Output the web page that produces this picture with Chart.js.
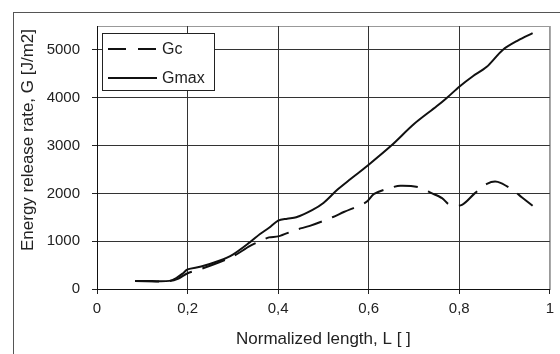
<!DOCTYPE html>
<html>
<head>
<meta charset="utf-8">
<script src="https://cdn.jsdelivr.net/npm/chart.js@4/dist/chart.umd.min.js"></script>
<style>
  html, body { margin: 0; padding: 0; background: #fff; }
  #wrap { width: 560px; height: 354px; position: relative; }
</style>
</head>
<body>
<div id="wrap"><canvas id="chart" width="560" height="354"></canvas></div>
<script>
// Gc (dashed) and Gmax (solid)
const gcX   = [0.084, 0.16, 0.18, 0.2, 0.23, 0.27, 0.30, 0.338, 0.36, 0.38, 0.40, 0.44, 0.47, 0.52, 0.545, 0.595, 0.612, 0.65, 0.67, 0.709, 0.74, 0.762, 0.779, 0.806, 0.834, 0.861, 0.885, 0.918, 0.938, 0.962];
const gcY   = [165, 165, 220, 330, 420, 560, 680, 900, 1000, 1080, 1100, 1240, 1320, 1500, 1610, 1820, 1990, 2120, 2160, 2130, 2000, 1900, 1760, 1760, 2000, 2200, 2240, 2070, 1920, 1740];
const gmaxX = [0.084, 0.12, 0.16, 0.175, 0.19, 0.2, 0.23, 0.27, 0.30, 0.338, 0.36, 0.38, 0.40, 0.42, 0.44, 0.475, 0.50, 0.53, 0.56, 0.60, 0.65, 0.70, 0.75, 0.773, 0.80, 0.83, 0.86, 0.896, 0.93, 0.962];
const gmaxY = [165, 165, 170, 230, 330, 410, 470, 590, 720, 980, 1150, 1280, 1430, 1470, 1500, 1650, 1800, 2070, 2300, 2600, 3000, 3450, 3820, 4000, 4230, 4450, 4640, 5000, 5200, 5350];
const yTicks = [0, 1000, 2000, 3000, 4000, 5000];
const xTicks = [0, 0.2, 0.4, 0.6, 0.8, 1];
const yTitle = 'Energy release rate, G [J/m2]';
const xTitle = 'Normalized length, L [ ]';

const toPts = (xs, ys) => xs.map((x, i) => ({ x: x, y: ys[i] }));
const FONT = "'Liberation Sans', Arial, sans-serif";

// outer frame, gray plot border and the y title
const framePlugin = {
    id: 'frame',
    beforeDraw(chart) {
        const ctx = chart.ctx;
        const a = chart.chartArea;
        ctx.save();
        ctx.fillStyle = '#fff';
        ctx.fillRect(0, 0, chart.width, chart.height);
        ctx.strokeStyle = '#555';
        ctx.lineWidth = 1;
        ctx.strokeRect(13.5, 12.5, 600, 400);
        ctx.strokeStyle = '#999';
        ctx.strokeRect(a.left + 0.5, a.top + 0.5, a.right - a.left, a.bottom - a.top);

        ctx.translate(33, 140);
        ctx.rotate(-Math.PI / 2);
        ctx.fillStyle = '#222';
        ctx.font = '17px ' + FONT;
        ctx.textAlign = 'center';
        ctx.textBaseline = 'alphabetic';
        ctx.fillText(yTitle, 0, 0);
        ctx.restore();
    }
};

// legend box in the top-left of the plot
const boxLegend = {
    id: 'boxLegend',
    afterDraw(chart) {
        const ctx = chart.ctx;
        ctx.save();
        ctx.fillStyle = '#fff';
        ctx.fillRect(102, 33, 112, 57);
        ctx.strokeStyle = '#222';
        ctx.lineWidth = 1;
        ctx.strokeRect(102.5, 33.5, 112, 57);
        chart.data.datasets.forEach((ds, i) => {
            const y = 49 + i * 29;
            ctx.strokeStyle = ds.borderColor;
            ctx.lineWidth = ds.borderWidth;
            ctx.setLineDash(ds.borderDash ? [18, 12] : []);
            ctx.beginPath();
            ctx.moveTo(108, y);
            ctx.lineTo(157, y);
            ctx.stroke();
            ctx.setLineDash([]);
            ctx.fillStyle = '#222';
            ctx.font = '16px ' + FONT;
            ctx.textBaseline = 'middle';
            ctx.fillText(ds.label, 162, y + 1);
        });
        ctx.restore();
    }
};

new Chart(document.getElementById('chart'), {
    type: 'line',
    data: {
        datasets: [
            {
                label: 'Gc',
                data: toPts(gcX, gcY),
                borderColor: '#111',
                borderWidth: 2,
                borderDash: [24, 11],
                pointRadius: 0,
                tension: 0.3,
                fill: false
            },
            {
                label: 'Gmax',
                data: toPts(gmaxX, gmaxY),
                borderColor: '#111',
                borderWidth: 2,
                pointRadius: 0,
                tension: 0.3,
                fill: false
            }
        ]
    },
    options: {
        responsive: false,
        animation: false,
        layout: { padding: { top: 26, right: 10, left: 0, bottom: 0 } },
        plugins: {
            legend: { display: false },
            tooltip: { enabled: false }
        },
        scales: {
            x: {
                type: 'linear',
                min: 0,
                max: 1,
                afterBuildTicks: s => { s.ticks = xTicks.map(v => ({ value: v })); },
                afterFit: s => { s.height = 65; },
                ticks: {
                    color: '#222',
                    font: { family: FONT, size: 15 },
                    padding: 6,
                    maxRotation: 0,
                    callback: v => String(v).replace('.', ',')
                },
                grid: {
                    color: ctx => (ctx.tick && ctx.tick.value === 1) ? '#999' : '#333',
                    tickColor: '#222',
                    tickLength: 5,
                    lineWidth: 1
                },
                border: { color: '#111', width: 1 },
                title: {
                    display: true,
                    text: xTitle,
                    color: '#222',
                    font: { family: FONT, size: 17 },
                    padding: { top: 2, bottom: 4 }
                }
            },
            y: {
                min: 0,
                max: 5500,
                afterBuildTicks: s => { s.ticks = yTicks.map(v => ({ value: v })); },
                afterFit: s => { s.width = 97; },
                ticks: {
                    color: '#222',
                    font: { family: FONT, size: 15 },
                    padding: 12,
                    callback: v => String(v)
                },
                grid: {
                    color: '#333',
                    tickColor: '#222',
                    tickLength: 5,
                    lineWidth: 1
                },
                border: { color: '#111', width: 1 }
            }
        }
    },
    plugins: [framePlugin, boxLegend]
});
</script>
</body>
</html>
